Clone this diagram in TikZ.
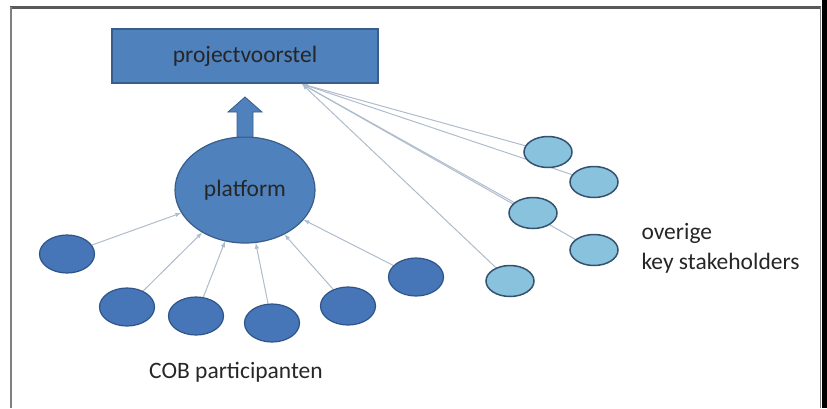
\documentclass[tikz,border=0pt]{standalone}
\usepackage{fontspec}
\setmainfont{Carlito}
\usetikzlibrary{shapes.geometric,backgrounds}

\definecolor{boxblue}{HTML}{4F81BD}
\definecolor{boxline}{HTML}{385D8A}
\definecolor{partblue}{HTML}{4676B8}
\definecolor{partline}{HTML}{2E5488}
\definecolor{stakeblue}{HTML}{88C2DC}
\definecolor{stakeline}{HTML}{34516F}
\definecolor{linkgray}{HTML}{AEBCCC}
\definecolor{txt}{HTML}{262626}

\tikzset{
  voorstel/.style={draw=boxline, fill=boxblue, line width=1.2pt, minimum width=266pt, minimum height=54pt, text=txt},
  platform/.style={ellipse, draw=boxline, fill=boxblue, line width=1.2pt, minimum width=140pt, minimum height=106pt, text=txt},
  participant/.style={ellipse, draw=partline, fill=partblue, line width=1.2pt, minimum width=55pt, minimum height=38pt},
  stakeholder/.style={ellipse, draw=stakeline, fill=stakeblue, line width=1.5pt, minimum width=48pt, minimum height=31pt},
  link/.style={draw=linkgray, line width=1pt, -latex},
  label/.style={text=txt, font=\fontsize{23.5}{30}\selectfont}
}

\begin{document}
\begin{tikzpicture}[x=1pt,y=-1pt,font=\fontsize{23.5}{30}\selectfont]%
        \useasboundingbox (0,0) rectangle (827,408);
        % frame
        \draw[gray!70!black, line width=3pt] (10,7.5) -- (821,7.5);
        \draw[gray, line width=2pt] (11,7) -- (11,408);
        \draw[gray, line width=1.5pt] (820.5,7) -- (820.5,408);
        \fill[black] (822,0) rectangle (827,408);

        \node[voorstel] (pv) at (245,56) {projectvoorstel};
        \coordinate (hub) at (302,84);
        \node[platform] (plat) at (245,190) {platform};
        \draw[boxline, fill=boxblue, line width=0.8pt] (237,137) -- (237,112) -- (228,112) -- (245,97) -- (262,112) -- (253,112) -- (253,137) -- cycle;

        % COB participanten
        \node[participant] (p1) at (67,254) {};
        \node[participant] (p2) at (127,307) {};
        \node[participant] (p3) at (196,316) {};
        \node[participant] (p4) at (272,323) {};
        \node[participant] (p5) at (348,306) {};
        \node[participant] (p6) at (416,277) {};

        % overige stakeholders
        \node[stakeholder] (s1) at (548,152) {};
        \node[stakeholder] (s2) at (594,182) {};
        \node[stakeholder] (s3) at (533,213) {};
        \node[stakeholder] (s4) at (594,250) {};
        \node[stakeholder] (s5) at (510,281) {};

        % lines run behind the ellipses
        \begin{scope}[on background layer]
            \foreach \p in {p1,p2,p3,p4,p5,p6}
                \draw[link] (\p) -- (plat);
            \foreach \s in {s1,s2,s3,s4,s5}
                \draw[link] (\s.center) -- (hub);
        \end{scope}

        \node[label, align=left, anchor=west] (overig) at (638,248) {overige\\key stakeholders};
        \node[label] (cob) at (236,372) {COB participanten};
    \end{tikzpicture}
\end{document}
